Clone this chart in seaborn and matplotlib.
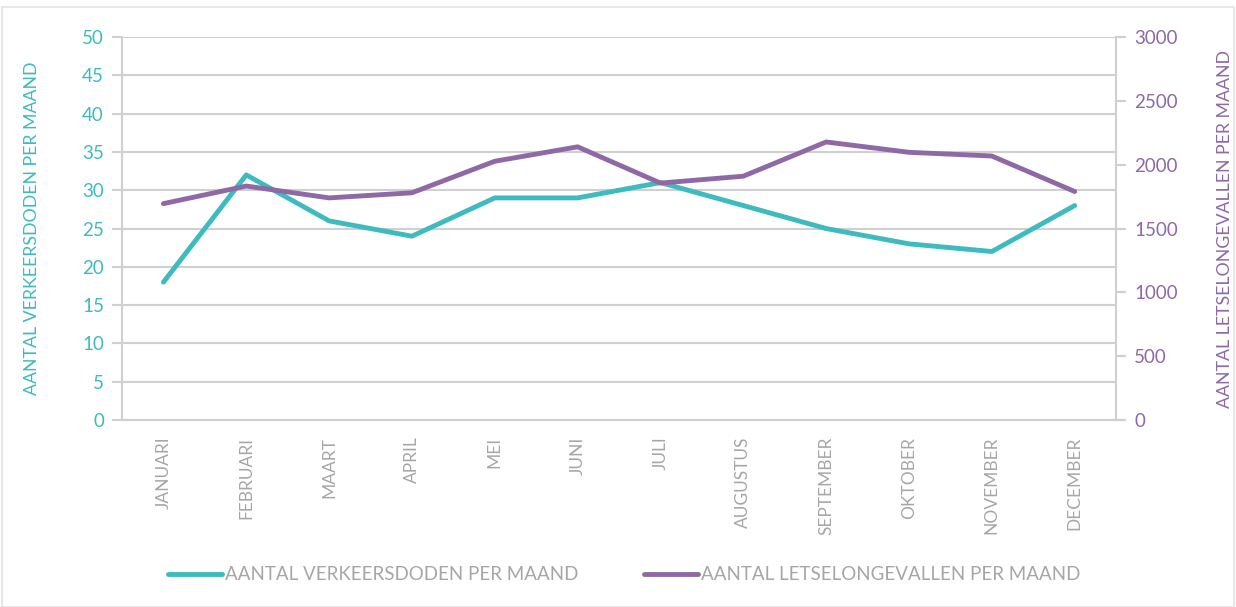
import pandas as pd
import seaborn as sns
import matplotlib.pyplot as plt
from matplotlib.patches import Rectangle
from matplotlib.lines import Line2D

months = ['JANUARI', 'FEBRUARI', 'MAART', 'APRIL', 'MEI', 'JUNI', 'JULI',
          'AUGUSTUS', 'SEPTEMBER', 'OKTOBER', 'NOVEMBER', 'DECEMBER']
verkeersdoden = [18, 32, 26, 24, 29, 29, 31, 28, 25, 23, 22, 28]
letselongevallen = [1695, 1833, 1740, 1780, 2027, 2140, 1856, 1910, 2178, 2097, 2068, 1790]

label_doden = 'AANTAL VERKEERSDODEN PER MAAND'
label_letsel = 'AANTAL LETSELONGEVALLEN PER MAAND'

teal = '#3dbbbf'
purple = '#8e69a6'
grey = '#a6a6a6'
grid_grey = '#d0d0d0'

df = pd.DataFrame({'maand': months, 'doden': verkeersdoden, 'letsel': letselongevallen})

sns.set_style('white')
plt.rcParams['font.family'] = ['Lato', 'DejaVu Sans']

fig = plt.figure(figsize=(12.36, 6.07), dpi=100)
ax = fig.add_axes([0.0987, 0.308, 0.8043, 0.631])
ax2 = ax.twinx()

sns.lineplot(data=df, x='maand', y='doden', ax=ax, color=teal, linewidth=3.5, sort=False)
sns.lineplot(data=df, x='maand', y='letsel', ax=ax2, color=purple, linewidth=3.5, sort=False)

ax.set_xlim(-0.5, 11.5)
ax.set_ylim(0, 50)
ax2.set_ylim(0, 3000)
ax.set_yticks(range(0, 51, 5))
ax2.set_yticks(range(0, 3001, 500))

ax.grid(axis='y', color=grid_grey, linewidth=1.5)
ax.set_axisbelow(True)

# category labels in the middle, tick marks on the boundaries
ax.set_xticks(range(12))
ax.set_xticklabels(months, rotation=90, color=grey, fontsize=12.5)
ax.set_xticks([i - 0.5 for i in range(13)], minor=True)
ax.tick_params(axis='x', which='major', length=0, pad=12)
ax.tick_params(axis='x', which='minor', length=7, width=1.5, color=grid_grey, direction='out')

ax.tick_params(axis='y', length=7, width=1.5, color=grid_grey, labelcolor=teal, labelsize=13.5, pad=6)
ax2.tick_params(axis='y', length=7, width=1.5, color=grid_grey, labelcolor=purple, labelsize=13.5, pad=6)
ax2.tick_params(axis='x', length=0)

for a in (ax, ax2):
    a.spines['top'].set_visible(False)
    for side in ('left', 'right', 'bottom'):
        a.spines[side].set_color(grid_grey)
        a.spines[side].set_linewidth(1.5)
ax.spines['right'].set_visible(False)
ax2.spines['left'].set_visible(False)

ax.set_xlabel('')
ax.set_ylabel(label_doden, color=teal, fontsize=12.8, labelpad=30)
ax2.set_ylabel(label_letsel, color=purple, fontsize=12.8, labelpad=28)

handles = [Line2D([0], [0], color=teal, linewidth=3.5),
           Line2D([0], [0], color=purple, linewidth=3.5)]
leg = fig.legend(handles, [label_doden, label_letsel], loc='center',
                 bbox_to_anchor=(0.505, 0.053), ncol=2, frameon=False,
                 fontsize=13.5, handlelength=2.9, handletextpad=0.15, columnspacing=3.5)
for t in leg.get_texts():
    t.set_color(grey)

fig.patches.append(Rectangle((0.002, 0.0), 0.996, 0.988, transform=fig.transFigure,
                             fill=False, edgecolor='#e3e3e3', linewidth=1.2))

fig.savefig('out.png', dpi=100)
